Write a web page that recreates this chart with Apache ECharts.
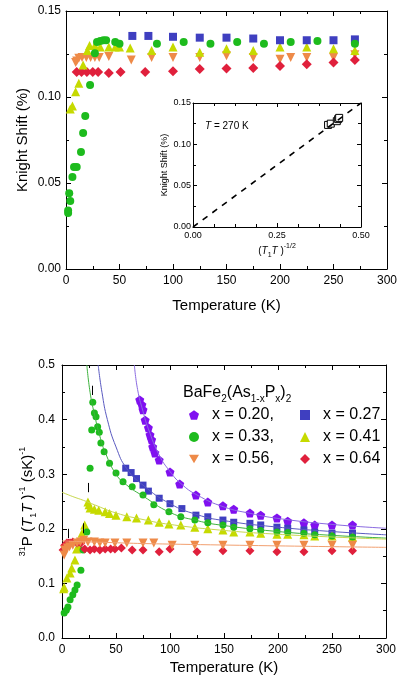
<!doctype html>
<html>
<head>
    <meta charset="utf-8">
    <title>Knight shift and 1/T1T</title>
    <style>
        html, body { margin: 0; padding: 0; background: #fff; }
        #chartFun { width: 397px; height: 677px; }
    </style>
</head>
<body>
<div id="chartFun"></div>
<script src="https://cdn.jsdelivr.net/npm/echarts@6/dist/echarts.min.js"></script>
<script>
    // ---------- top panel: Knight shift (%) vs T ----------
    var ksX27 = [[62,0.1355],[77,0.1355],[100,0.135],[125,0.1345],[150,0.1345],[175,0.134],[200,0.133],[225,0.133],[250,0.133],[270,0.1335]];
    var ksX33 = [[2,0.0326],[2,0.034],[3,0.044],[4,0.0395],[6,0.0535],[7.5,0.0593],[10,0.0593],[14,0.068],[16,0.079],[18,0.089],[22.5,0.107],[27,0.1255],[29,0.132],[32,0.1325],[35,0.133],[37.5,0.133],[46,0.132],[50,0.131],[85,0.131],[110,0.132],[135,0.131],[160,0.132],[185,0.131],[210,0.132],[235,0.1326],[270,0.131]];
    var ksX41 = [[4,0.093],[6,0.0948],[9,0.103],[12,0.108],[16,0.1186],[20,0.127],[22,0.13],[27,0.13],[32,0.129],[40,0.129],[46,0.129],[50,0.129],[60,0.1285],[80,0.127],[100,0.129],[125,0.126],[150,0.128],[175,0.127],[200,0.129],[225,0.129],[250,0.128],[270,0.127]];
    var ksX56 = [[9,0.12],[10,0.121],[12,0.1225],[15,0.123],[19,0.123],[23,0.123],[27,0.123],[31,0.123],[40,0.1235],[61,0.1215],[80,0.123],[100,0.123],[125,0.123],[150,0.124],[175,0.123],[200,0.122],[210,0.123],[225,0.123],[250,0.123],[270,0.1245]];
    var ksX64 = [[10,0.1145],[14.5,0.1145],[19.5,0.1145],[25,0.1145],[30,0.1145],[40,0.114],[51,0.1145],[74,0.1145],[100,0.115],[125,0.1163],[150,0.1165],[175,0.1168],[200,0.118],[225,0.119],[250,0.12],[270,0.1215]];

    // inset: K vs (T1T)^-1/2 at 270 K
    var insetPts = [[0.402,0.1235],[0.41,0.125],[0.428,0.128],[0.432,0.1305],[0.435,0.132]];
    var insetLine = [[0,0],[0.5,0.15]];

    // ---------- bottom panel: 1/T1T vs T ----------
    var rX20 = [[72,0.436],[74,0.427],[75,0.418],[77,0.399],[80,0.385],[81.5,0.372],[83,0.363],[84,0.35],[86,0.339],[90,0.326],[100,0.304],[109,0.282],[124,0.262],[135,0.249],[149,0.242],[159,0.236],[174,0.229],[184,0.225],[199,0.22],[209,0.214],[224,0.211],[234,0.207],[250,0.207],[269,0.207]];
    var rX27 = [[59,0.311],[64,0.303],[69,0.292],[75,0.28],[80,0.269],[90,0.256],[100,0.246],[111,0.237],[124,0.225],[135,0.222],[149,0.216],[159,0.212],[174,0.21],[184,0.207],[199,0.203],[209,0.201],[224,0.198],[234,0.194],[250,0.192],[269,0.192]];
    var rX33 = [[2,0.046],[4,0.051],[5.5,0.057],[7.5,0.07],[10,0.079],[12,0.088],[14,0.097],[17.5,0.124],[19.5,0.161],[23,0.194],[26,0.311],[27.5,0.381],[28.5,0.432],[30,0.412],[31.5,0.405],[33,0.387],[34.5,0.377],[36,0.357],[39,0.341],[44,0.32],[50,0.302],[56.5,0.286],[65,0.277],[75,0.262],[85,0.244],[99,0.231],[110,0.222],[123,0.216],[135,0.211],[149,0.207],[159,0.203],[174,0.2],[184,0.197],[199,0.194],[209,0.193],[224,0.192],[234,0.189],[250,0.187],[269,0.185]];
    var rX41 = [[1.5,0.09],[2,0.093],[4.5,0.11],[7.5,0.119],[9,0.128],[12,0.143],[13.5,0.163],[16,0.167],[18.5,0.192],[21,0.207],[24,0.249],[25,0.244],[26,0.238],[30,0.236],[34,0.234],[40,0.231],[44,0.228],[50,0.225],[60,0.222],[69,0.22],[80,0.216],[90,0.212],[99,0.209],[110,0.207],[123,0.203],[135,0.2],[149,0.198],[159,0.194],[174,0.194],[184,0.192],[199,0.19],[209,0.19],[224,0.189],[234,0.187],[250,0.187],[269,0.185]];
    var rX56 = [[2,0.152],[2.5,0.161],[5,0.165],[7,0.167],[10,0.17],[14,0.174],[17,0.176],[20,0.179],[24,0.176],[30,0.176],[35,0.174],[40,0.174],[49,0.174],[60,0.174],[75,0.174],[85,0.174],[102,0.17],[123,0.17],[149,0.17],[174,0.17],[199,0.17],[224,0.17],[250,0.17],[269,0.17]];
    var rX64 = [[1,0.161],[2.5,0.17],[4.5,0.174],[6,0.174],[7.5,0.174],[10,0.176],[14,0.174],[17.5,0.174],[21,0.163],[26,0.161],[30,0.163],[35,0.161],[40,0.163],[45,0.163],[49,0.163],[55,0.165],[65,0.161],[75,0.161],[90,0.158],[100,0.163],[125,0.158],[149,0.16],[174,0.16],[199,0.158],[224,0.158],[250,0.16],[269,0.16]];

    // fitted curves
    var fitX20 = [[67,0.5],[70,0.455],[75,0.415],[80,0.383],[90,0.335],[100,0.305],[110,0.283],[125,0.262],[150,0.24],[175,0.228],[200,0.219],[250,0.208],[300,0.201]];
    var fitX27 = [[33.5,0.5],[37,0.45],[42,0.4],[50,0.35],[60,0.31],[75,0.28],[100,0.246],[125,0.226],[150,0.215],[200,0.203],[250,0.195],[300,0.189]];
    var fitX33 = [[23,0.5],[26,0.45],[30,0.41],[35,0.37],[40,0.34],[50,0.3],[60,0.28],[75,0.26],[100,0.23],[125,0.215],[150,0.206],[200,0.195],[250,0.188],[300,0.183]];
    var fitX41 = [[0,0.267],[10,0.259],[20,0.252],[30,0.244],[50,0.229],[75,0.217],[100,0.208],[150,0.197],[200,0.19],[250,0.185],[300,0.181]];
    var fitX56 = [[0,0.178],[25,0.176],[100,0.172],[300,0.166]];

    // arrows: [T, from, to]
    var arrows = [[5.5,0.2,0.183],[19.5,0.21,0.192],[24,0.284,0.267],[28,0.462,0.445]];

    var cBlue = '#3F3FC0', cGreen = '#1DBB1D', cYel = '#C6DA00', cOra = '#EE8A48', cRed = '#E0203C', cPur = '#8010F0';
    var FONT = 'Liberation Sans, Arial, sans-serif';
    var pentagon = 'path://M50 0 L97.6 34.5 L79.4 90.5 L20.6 90.5 L2.4 34.5 Z';
    var triDown = 'path://M0 0 L100 0 L50 87 Z';

    function fix(n) { return function (v) { return v.toFixed(n); }; }

    function axisX(grid, min, max, interval, pos, show, extra) {
        var a = {
            type: 'value', gridIndex: grid, min: min, max: max, interval: interval, position: pos,
            axisLine: { show: true, onZero: false, lineStyle: { color: '#000', width: 1 } },
            axisTick: { show: true, inside: true, length: 5, lineStyle: { color: '#000' } },
            minorTick: { show: true, splitNumber: 2, length: 3, lineStyle: { color: '#000' } },
            axisLabel: { show: show, color: '#000', fontSize: 12, fontFamily: FONT, margin: 6 },
            splitLine: { show: false }
        };
        for (var k in extra) a[k] = extra[k];
        return a;
    }

    function pts(name, axis, data, symbol, size, color) {
        return {
            name: name, type: 'scatter', xAxisIndex: axis, yAxisIndex: axis, data: data,
            symbol: symbol, symbolSize: size,
            itemStyle: { color: color, opacity: 1 }
        };
    }

    var titleText = { color: '#000', fontSize: 15, fontFamily: FONT };
    var legText = { fontSize: 16, fontFamily: FONT, color: '#000', lineHeight: 16, padding: [0, 0, 0, 8] };

    var dom = document.getElementById('chartFun');
    var myChart = echarts.init(dom, null, { renderer: 'canvas', width: 397, height: 677 });

    var option = {
        backgroundColor: '#fff',
        animation: false,
        grid: [
            { left: 66, top: 11, width: 321, height: 258, outerBoundsMode: 'none' },
            { left: 193, top: 103, width: 168, height: 124, show: true, backgroundColor: '#fff', borderWidth: 0, outerBoundsMode: 'none' },
            { left: 62, top: 365, width: 324, height: 273, outerBoundsMode: 'none' }
        ],
        title: {
            text: '{n|BaFe}{sb|2}{n|(As}{sb|1-x}{n|P}{sb|x}{n|)}{sb|2}',
            left: 178, top: 377,
            textStyle: {
                fontWeight: 'normal',
                rich: {
                    n: { fontSize: 16, fontFamily: FONT, fontWeight: 'normal', color: '#000', lineHeight: 22, verticalAlign: 'middle' },
                    sb: { fontSize: 10, fontFamily: FONT, fontWeight: 'normal', color: '#000', lineHeight: 22, verticalAlign: 'bottom' }
                }
            }
        },
        legend: [
            {
                data: ['x = 0.20,', 'x = 0.33,', 'x = 0.56,'],
                orient: 'vertical', left: 184, top: 402, itemWidth: 10, itemHeight: 10, itemGap: 6,
                textStyle: legText
            },
            {
                data: ['x = 0.27', 'x = 0.41', 'x = 0.64'],
                orient: 'vertical', left: 295, top: 402, itemWidth: 10, itemHeight: 10, itemGap: 6,
                textStyle: legText
            }
        ],
        graphic: [
            {
                type: 'text', left: 205, top: 121,
                style: {
                    text: '{i|T} = 270 K',
                    fontSize: 10, fontFamily: FONT, fill: '#000',
                    rich: { i: { fontStyle: 'italic', fontSize: 10, fontFamily: FONT, fill: '#000' } }
                }
            }
        ],
        xAxis: [
            axisX(0, 0, 300, 50, 'bottom', true, { name: 'Temperature (K)', nameLocation: 'middle', nameGap: 29, nameTextStyle: titleText }),
            axisX(0, 0, 300, 50, 'top', false, {}),
            axisX(1, 0, 0.5, 0.25, 'bottom', true, {
                axisLabel: { color: '#000', fontSize: 9, fontFamily: FONT, margin: 4, formatter: fix(2) },
                minorTick: { show: true, splitNumber: 4, length: 3, lineStyle: { color: '#000' } },
                axisTick: { show: true, inside: true, length: 4, lineStyle: { color: '#000' } },
                name: '{n|(}{i|T}{sb|1}{i|T}{n| )}{sp|-1/2}', nameLocation: 'middle', nameGap: 16,
                nameTextStyle: {
                    rich: {
                        n: { fontSize: 10, fontFamily: FONT, color: '#000', lineHeight: 16, verticalAlign: 'middle' },
                        i: { fontSize: 10, fontFamily: FONT, color: '#000', fontStyle: 'italic', lineHeight: 16, verticalAlign: 'middle' },
                        sb: { fontSize: 7, fontFamily: FONT, color: '#000', lineHeight: 16, verticalAlign: 'bottom' },
                        sp: { fontSize: 7, fontFamily: FONT, color: '#000', lineHeight: 16, verticalAlign: 'top' }
                    }
                }
            }),
            axisX(1, 0, 0.5, 0.25, 'top', false, {
                minorTick: { show: true, splitNumber: 4, length: 3, lineStyle: { color: '#000' } },
                axisTick: { show: true, inside: true, length: 4, lineStyle: { color: '#000' } }
            }),
            axisX(2, 0, 300, 50, 'bottom', true, { name: 'Temperature (K)', nameLocation: 'middle', nameGap: 22, nameTextStyle: titleText }),
            axisX(2, 0, 300, 50, 'top', false, {})
        ],
        yAxis: [
            axisX(0, 0, 0.15, 0.05, 'left', true, {
                axisLabel: { color: '#000', fontSize: 12, fontFamily: FONT, margin: 5, formatter: fix(2) },
                name: 'Knight Shift (%)', nameLocation: 'middle', nameGap: 36, nameMoveOverlap: false, nameTextStyle: titleText
            }),
            axisX(0, 0, 0.15, 0.05, 'right', false, {}),
            axisX(1, 0, 0.15, 0.05, 'left', true, {
                axisLabel: { color: '#000', fontSize: 9, fontFamily: FONT, margin: 2, formatter: fix(2) },
                axisTick: { show: true, inside: true, length: 4, lineStyle: { color: '#000' } },
                name: 'Knight Shift (%)', nameLocation: 'middle', nameGap: 24,
                nameTextStyle: { color: '#000', fontSize: 9, fontFamily: FONT }
            }),
            axisX(1, 0, 0.15, 0.05, 'right', false, {
                axisTick: { show: true, inside: true, length: 4, lineStyle: { color: '#000' } }
            }),
            axisX(2, 0, 0.5, 0.1, 'left', true, {
                axisLabel: { color: '#000', fontSize: 12, fontFamily: FONT, margin: 7, formatter: fix(1) },
                name: '{sp|31}{n|P (}{i|T}{sb|1}{i|T}{n| )}{sp|-1}{n| (sK)}{sp|-1}',
                nameLocation: 'middle', nameGap: 24, nameMoveOverlap: false,
                nameTextStyle: {
                    rich: {
                        n: { fontSize: 15, fontFamily: FONT, color: '#000', lineHeight: 20, verticalAlign: 'middle' },
                        i: { fontSize: 15, fontFamily: FONT, color: '#000', fontStyle: 'italic', lineHeight: 20, verticalAlign: 'middle' },
                        sb: { fontSize: 9, fontFamily: FONT, color: '#000', lineHeight: 20, verticalAlign: 'bottom' },
                        sp: { fontSize: 9, fontFamily: FONT, color: '#000', lineHeight: 20, verticalAlign: 'top' }
                    }
                }
            }),
            axisX(2, 0, 0.5, 0.1, 'right', false, {})
        ],
        series: [
            // top panel
            pts('K 0.56', 0, ksX56, triDown, 9, cOra),
            pts('K 0.64', 0, ksX64, 'diamond', 10, cRed),
            pts('K 0.41', 0, ksX41, 'triangle', 9, cYel),
            pts('K 0.27', 0, ksX27, 'rect', 8, cBlue),
            pts('K 0.33', 0, ksX33, 'circle', 8, cGreen),
            // inset
            { name: 'inset line', type: 'line', xAxisIndex: 2, yAxisIndex: 2, data: insetLine, showSymbol: false, silent: true,
              lineStyle: { color: '#000', width: 1.6, type: [6, 6] } },
            { name: 'inset pts', type: 'scatter', xAxisIndex: 2, yAxisIndex: 2, data: insetPts, symbol: 'rect', symbolSize: 7,
              itemStyle: { color: '#fff', borderColor: '#000', borderWidth: 1, opacity: 1 } },
            // bottom panel fitted curves
            { name: 'fit 0.20', type: 'line', xAxisIndex: 4, yAxisIndex: 4, data: fitX20, showSymbol: false, smooth: true, lineStyle: { color: '#8A6AE0', width: 1 } },
            { name: 'fit 0.27', type: 'line', xAxisIndex: 4, yAxisIndex: 4, data: fitX27, showSymbol: false, smooth: true, lineStyle: { color: '#5A5AC0', width: 1 } },
            { name: 'fit 0.33', type: 'line', xAxisIndex: 4, yAxisIndex: 4, data: fitX33, showSymbol: false, smooth: true, lineStyle: { color: '#3DB23D', width: 1 } },
            { name: 'fit 0.41', type: 'line', xAxisIndex: 4, yAxisIndex: 4, data: fitX41, showSymbol: false, smooth: true, lineStyle: { color: '#C8D850', width: 1 } },
            { name: 'fit 0.56', type: 'line', xAxisIndex: 4, yAxisIndex: 4, data: fitX56, showSymbol: false, smooth: true, lineStyle: { color: '#F2A070', width: 1 } },
            // bottom panel points
            pts('x = 0.20,', 4, rX20, pentagon, 9, cPur),
            pts('x = 0.27', 4, rX27, 'rect', 7, cBlue),
            pts('x = 0.41', 4, rX41, 'triangle', 9, cYel),
            pts('x = 0.33,', 4, rX33, 'circle', 7, cGreen),
            pts('x = 0.64', 4, rX64, 'diamond', 9, cRed),
            (function () {
                var s = pts('x = 0.56,', 4, rX56, triDown, 9, cOra);
                s.markLine = {
                    silent: true, symbol: ['none', 'arrow'], symbolSize: [0, 5], label: { show: false },
                    lineStyle: { color: '#000', width: 1, type: 'solid', opacity: 1 },
                    data: arrows.map(function (a) { return [{ coord: [a[0], a[1]] }, { coord: [a[0], a[2]] }]; })
                };
                return s;
            })()
        ]
    };
    myChart.setOption(option);
</script>
</body>
</html>
